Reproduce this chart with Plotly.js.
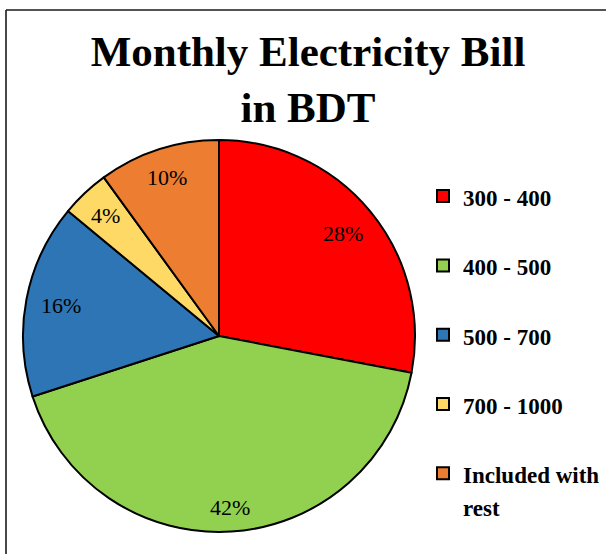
<!DOCTYPE html>
<html>
<head>
<meta charset="utf-8">
<script src="https://cdn.plot.ly/plotly-3.0.1.min.js"></script>
<style>html,body{margin:0;padding:0;background:#fff;}#chart{width:606px;height:554px;}</style>
</head>
<body>
<div id="chart"></div>
<script>
// Data
const categories = ['300 - 400', '400 - 500', '500 - 700', '700 - 1000', 'Included with\nrest'];
const shares = [28, 42, 16, 4, 10];
const sliceColors = ['#FF0000', '#92D050', '#2E75B6', '#FFD966', '#ED7D31'];
const chartTitle = 'Monthly Electricity Bill<br>in BDT';

const W = 606, H = 554;
const LEG_TEXT = 23;
const LABEL_SIZE = 22;
const SERIF = 'Liberation Serif, Times New Roman, serif';

// legend names: each entry spans two lines so rows are spaced like the reference
const legendNames = categories.map(c => {
  const parts = c.split('\n').map(p => "<span style='font-size:" + LEG_TEXT + "px'>" + p + "</span>");
  if (parts.length === 1) parts.push(' ');
  return parts.join('<br>');
});

const cx = 219, cy = 336, R = 196;

const trace = {
  type: 'pie',
  labels: legendNames,
  values: shares,
  sort: false,
  direction: 'clockwise',
  rotation: 0,
  marker: {colors: sliceColors, line: {color: '#000000', width: 2}},
  textinfo: 'none',
  hoverinfo: 'label+percent',
  domain: {x: [(cx - R) / W, (cx + R) / W], y: [(H - cy - R) / H, (H - cy + R) / H]}
};

// percentage labels placed "inside end" of each slice, derived from the shares
const total = shares.reduce((a, b) => a + b, 0);
const annotations = [];
let cum = 0;
shares.forEach(v => {
  const pct = Math.round(v / total * 100);
  const txt = pct + '%';
  const mid = (cum + v / 2) / total * 2 * Math.PI; // clockwise from 12 o'clock
  cum += v;
  const dx = Math.sin(mid), dy = -Math.cos(mid);
  const hw = LABEL_SIZE * (0.5 * String(pct).length + 0.833) / 2;
  const hh = LABEL_SIZE * 0.46;
  const r = R - 13 - (Math.abs(dx) * hw + Math.abs(dy) * hh);
  const px = cx + dx * r, py = cy + dy * r;
  annotations.push({
    text: txt, showarrow: false, xref: 'paper', yref: 'paper',
    x: px / W, y: 1 - py / H, xanchor: 'center', yanchor: 'middle',
    font: {family: SERIF, size: LABEL_SIZE, color: '#000000'}
  });
});

const layout = {
  width: W, height: H,
  margin: {l: 0, r: 0, t: 0, b: 0, autoexpand: false},
  paper_bgcolor: '#ffffff',
  title: {
    text: chartTitle,
    font: {family: SERIF, size: 43, color: '#000000', weight: 'bold'},
    x: 308 / W, xanchor: 'center', xref: 'container',
    y: 1 - 66 / H, yanchor: 'top', yref: 'container'
  },
  showlegend: true,
  legend: {
    x: 423 / W, xanchor: 'left',
    y: 1 - 173 / H, yanchor: 'top',
    valign: 'top',
    font: {family: SERIF, size: 25.5, color: '#000000', weight: 'bold'},
    bgcolor: 'rgba(0,0,0,0)', borderwidth: 0
  },
  annotations: annotations,
  shapes: [
    {type: 'line', xref: 'paper', yref: 'paper', x0: 6 / W, x1: 6 / W, y0: 0, y1: 1 - 10 / H,
     line: {color: '#1a1a1a', width: 1.6}},
    {type: 'line', xref: 'paper', yref: 'paper', x0: 6 / W, x1: 1, y0: 1 - 10 / H, y1: 1 - 10 / H,
     line: {color: '#1a1a1a', width: 1.6}}
  ]
};

Plotly.newPlot('chart', [trace], layout, {displayModeBar: false, staticPlot: true});
</script>
</body>
</html>
